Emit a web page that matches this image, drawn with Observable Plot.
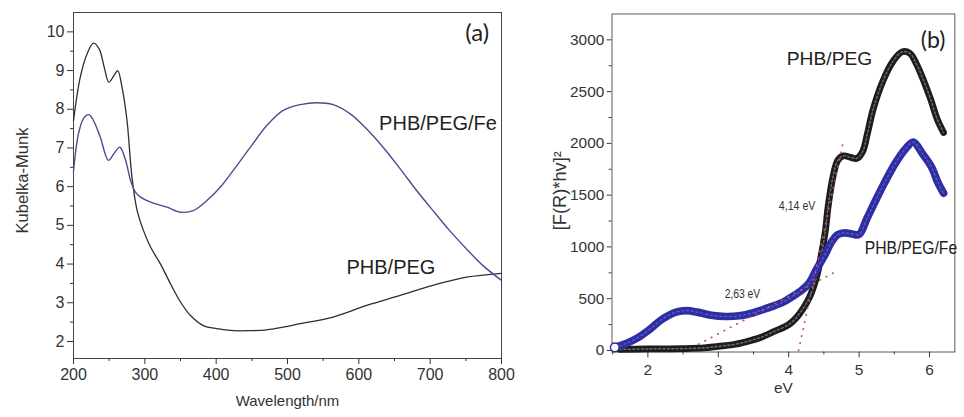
<!DOCTYPE html>
<html><head><meta charset="utf-8">
<script src="https://cdn.jsdelivr.net/npm/d3@7"></script>
<script src="https://cdn.jsdelivr.net/npm/@observablehq/plot@0.6"></script>
<style>
html,body{margin:0;padding:0;background:#fff;overflow:hidden;width:964px;height:417px;}
#a{position:absolute;left:0;top:0;}
#b{position:absolute;left:520px;top:0;}
#a svg, #b svg{font-family:'Liberation Sans', Arial, sans-serif;}
</style></head><body><div id="a"></div><div id="b"></div>
<script>
// ---- Panel (a): Kubelka-Munk vs wavelength ----
const wlPhbPeg = [200,209.5,219,228,236,243,249.6,256.6,262,268,275,282,289,298,308,322,336,350,364,382,401,424,448,471,494,518,564,611,658,704,751,800];
const kmPhbPeg = [7.71,8.83,9.43,9.71,9.56,9.09,8.70,8.87,9.0,8.57,7.71,6.24,5.4,4.87,4.44,4.0,3.49,3.02,2.67,2.41,2.33,2.28,2.28,2.3,2.37,2.46,2.63,2.93,3.19,3.45,3.66,3.76];
const wlPhbPegFe = [200,207,214,221.5,228,237.5,249,256.6,265,273,280,287,294,308,331,350,368,387,406,424,448,471,494,518,541,564,588,611,634,658,681,704,727,751,774,800];
const kmPhbPegFe = [6.4,7.37,7.76,7.86,7.71,7.28,6.68,6.85,7.02,6.68,6.16,5.85,5.73,5.6,5.47,5.34,5.38,5.64,5.99,6.42,7.02,7.58,7.97,8.12,8.17,8.12,7.88,7.49,7.02,6.46,5.9,5.38,4.87,4.39,3.96,3.58];
const wlTicks = [200,300,400,500,600,700,800];
const wlMinor = [250,350,450,550,650,750];
const kmTicks = [2,3,4,5,6,7,8,9,10];
const kmMinor = [2.5,3.5,4.5,5.5,6.5,7.5,8.5,9.5];

// ---- Panel (b): [F(R)*hv]^2 vs eV ----
const evPhbPeg = [1.6,2.0,2.5,2.8,3.0,3.2,3.4,3.6,3.8,4.0,4.1,4.2,4.3,4.4,4.47,4.52,4.56,4.63,4.7,4.78,4.88,4.97,5.05,5.12,5.2,5.34,5.48,5.61,5.72,5.82,5.92,6.02,6.11,6.2];
const fPhbPeg = [10,15,18,25,40,55,85,125,185,250,310,400,520,720,950,1150,1390,1680,1840,1880,1865,1855,1920,2100,2330,2605,2791,2884,2870,2760,2600,2419,2233,2105];
const evPhbPegFe = [1.53,1.7,1.85,2.0,2.2,2.4,2.55,2.7,2.9,3.1,3.3,3.5,3.7,3.9,4.06,4.2,4.29,4.4,4.52,4.6,4.7,4.8,4.9,5.0,5.11,5.25,5.38,5.52,5.65,5.77,5.9,6.03,6.12,6.2];
const fPhbPegFe = [30,70,120,190,300,370,385,370,340,328,335,365,410,460,524,590,650,790,930,1040,1120,1135,1125,1120,1272,1470,1644,1814,1940,2013,1900,1770,1620,1519];
const tangentHigh = {ev: [4.14, 4.78], f: [0, 2030]};
const tangentLow = {ev: [2.72, 4.68], f: [60, 765]};
const evTicks = [2,3,4,5,6];
const evMinor = [1.5,2.5,3.5,4.5,5.5];
const fTicks = [0,500,1000,1500,2000,2500,3000];
const fMinor = [250,750,1250,1750,2250,2750];

const font = "'Liberation Sans', Arial, sans-serif";
const zip = (xs, ys) => xs.map((x, i) => ({x, y: ys[i]}));

const plotA = Plot.plot({
  width: 520, height: 417,
  marginLeft: 73, marginRight: 19, marginTop: 12, marginBottom: 59,
  x: {domain: [200, 800]},
  y: {domain: [1.56, 10.5]},
  style: {fontFamily: font, fontSize: "16px", color: "#333", background: "white"},
  marks: [
    Plot.frame({stroke: "#444"}),
    Plot.axisX(wlTicks, {tickSize: 6, tickPadding: 4, label: null, fontSize: 16}),
    Plot.axisX(wlMinor, {tickSize: 3, tickFormat: () => "", label: null}),
    Plot.axisY(kmTicks, {tickSize: 6, tickPadding: 3, label: null, fontSize: 16}),
    Plot.axisY(kmMinor, {tickSize: 3, tickFormat: () => "", label: null}),
    Plot.line(zip(wlPhbPeg, kmPhbPeg), {x: "x", y: "y", curve: "catmull-rom", stroke: "#2e2e2e", strokeWidth: 1.3}),
    Plot.line(zip(wlPhbPegFe, kmPhbPegFe), {x: "x", y: "y", curve: "catmull-rom", stroke: "#4f4a8e", strokeWidth: 1.4}),
    Plot.text(["PHB/PEG/Fe"], {x: 711, y: 7.63, text: d => d, fontSize: 20, fill: "#222"}),
    Plot.text(["PHB/PEG"], {x: 645, y: 3.91, text: d => d, fontSize: 20, fill: "#222"}),
    Plot.text(["(a)"], {x: 766, y: 9.96, text: d => d, fontSize: 24, fontFamily: "Lato, 'Open Sans', sans-serif", fill: "#222"}),
    Plot.text(["Kubelka-Munk"], {frameAnchor: "left", text: d => d, rotate: -90, dx: -51, dy: -5, textAnchor: "middle", fontSize: 16, fill: "#333", className: "ylab-a"}),
    Plot.text(["Wavelength/nm"], {frameAnchor: "bottom", text: d => d, dy: 47, textAnchor: "middle", fontSize: 15, fill: "#333"})
  ]
});
document.getElementById("a").appendChild(plotA);

const plotB = Plot.plot({
  width: 461, height: 417,
  marginLeft: 95, marginRight: 10, marginTop: 14, marginBottom: 52,
  x: {domain: [1.49, 6.36]},
  y: {domain: [-15, 3250]},
  style: {fontFamily: font, fontSize: "16px", color: "#333", background: "white"},
  marks: [
    Plot.frame({stroke: "#555"}),
    Plot.axisX(evTicks, {tickSize: 6, tickPadding: 6, label: null, fontSize: 16}),
    Plot.axisX(evMinor, {tickSize: 3, tickFormat: () => "", label: null}),
    Plot.axisY(fTicks, {tickSize: 5, tickPadding: 3, label: null, tickFormat: d3.format("d"), fontSize: 16}),
    Plot.axisY(fMinor, {tickSize: 3, tickFormat: () => "", label: null}),
    Plot.line(zip(evPhbPeg, fPhbPeg), {x: "x", y: "y", curve: "catmull-rom", stroke: "#1c1c1c", strokeWidth: 7, strokeLinecap: "round"}),
    Plot.line(zip(evPhbPeg, fPhbPeg), {x: "x", y: "y", curve: "catmull-rom", stroke: "#8a8a8a", strokeWidth: 1.6, strokeDasharray: "2,2.5", strokeOpacity: 0.7}),
    Plot.line(zip(evPhbPegFe, fPhbPegFe), {x: "x", y: "y", curve: "catmull-rom", stroke: "#2d2ea3", strokeWidth: 8, strokeLinecap: "round"}),
    Plot.line(zip(evPhbPegFe, fPhbPegFe), {x: "x", y: "y", curve: "catmull-rom", stroke: "#7a7ad0", strokeWidth: 1.4, strokeDasharray: "2,3", strokeOpacity: 0.6}),
    Plot.dot([0], {x: () => evPhbPegFe[0], y: () => fPhbPegFe[0], r: 4.5, fill: "white", stroke: "#2d2ea3", strokeWidth: 1.5}),
    Plot.line(zip(tangentHigh.ev, tangentHigh.f), {x: "x", y: "y", stroke: "#c8506a", strokeWidth: 1.8, strokeDasharray: "0.5,7", strokeLinecap: "round"}),
    Plot.line(zip(tangentLow.ev, tangentLow.f), {x: "x", y: "y", stroke: "#c8506a", strokeWidth: 1.8, strokeDasharray: "0.5,7", strokeLinecap: "round"}),
    Plot.text(["PHB/PEG"], {x: 4.58, y: 2821, text: d => d, fontSize: 20, fill: "#222"}),
    Plot.text(["PHB/PEG/Fe"], {x: 5.08, y: 989, text: d => d, textAnchor: "start", fontSize: 20, fill: "#222", className: "narrow-fe"}),
    Plot.text(["4,14 eV"], {x: 3.86, y: 1398, text: d => d, textAnchor: "start", fontSize: 14, fill: "#333", className: "narrow-a"}),
    Plot.text(["2,63 eV"], {x: 3.09, y: 552, text: d => d, textAnchor: "start", fontSize: 14, fill: "#333", className: "narrow-b"}),
    Plot.text(["(b)"], {x: 6.05, y: 2989, text: d => d, fontSize: 24, fontFamily: "Lato, 'Open Sans', sans-serif", fill: "#222"}),
    Plot.text(["[F(R)*hv]²"], {frameAnchor: "left", text: d => d, rotate: -90, dx: -54, dy: 8, textAnchor: "middle", fontSize: 19, fill: "#333"}),
    Plot.text(["eV"], {frameAnchor: "bottom", text: d => d, dy: 43, textAnchor: "middle", fontSize: 16, fill: "#333"})
  ]
});
document.getElementById("b").appendChild(plotB);
// condense / stretch texts to the lengths seen in the reference
const fit = (plot, cls, len) => d3.select(plot).selectAll(`.${cls} text`)
  .attr("textLength", len).attr("lengthAdjust", "spacingAndGlyphs");
fit(plotB, "narrow-fe", 96);
fit(plotB, "narrow-a", 38);
fit(plotB, "narrow-b", 37);
fit(plotA, "ylab-a", 106);
</script>
</body></html>
